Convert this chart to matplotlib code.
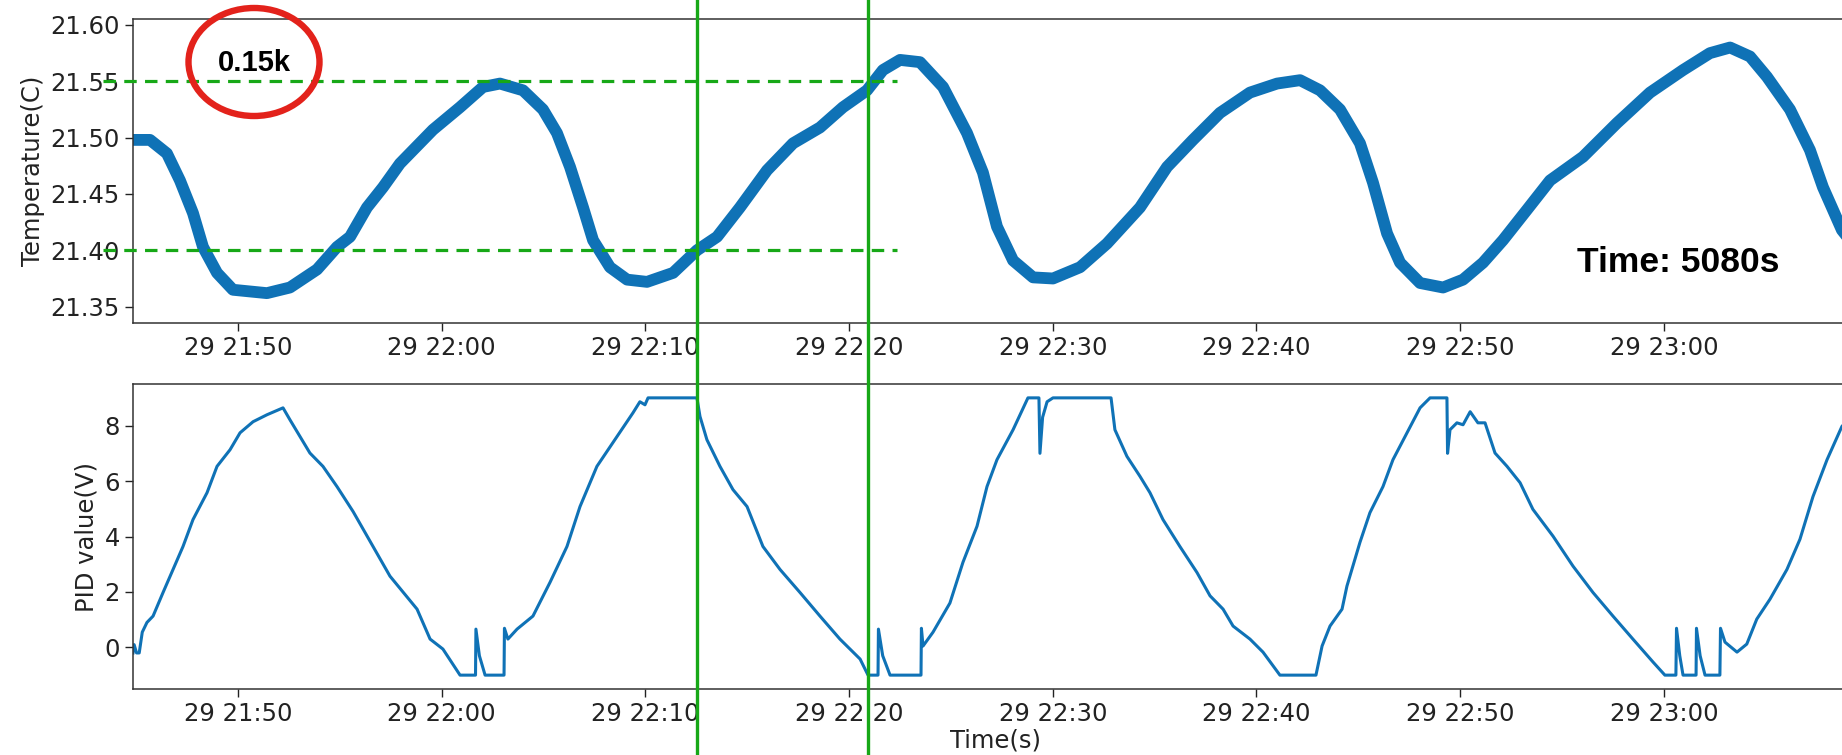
import matplotlib
matplotlib.use("Agg")
import matplotlib.pyplot as plt
import matplotlib.dates as mdates
from matplotlib.patches import Ellipse
from matplotlib.lines import Line2D
import pandas as pd

BASE = pd.Timestamp("2019-05-29 21:50:00")

# temperature (minutes after 21:50, value in C)
temp_minutes = [-5.155, -4.32, -3.49, -2.85, -2.21, -1.72, -1.03, -0.25, 1.42, 2.55,
                3.88, 4.86, 5.50, 6.33, 7.12, 7.95, 9.57, 10.90, 12.03, 12.86,
                13.99, 14.97, 15.66, 16.30, 16.94, 17.43, 18.26, 19.10, 20.08, 21.36,
                22.53, 23.52, 24.64, 25.97, 27.25, 28.57, 29.70, 30.88, 31.66, 32.50,
                33.48, 34.61, 35.79, 36.57, 37.26, 38.05, 39.03, 40.01, 41.34, 42.66,
                44.28, 45.61, 46.88, 48.21, 49.68, 51.01, 52.14, 53.12, 54.10, 55.08,
                55.72, 56.41, 57.05, 58.03, 59.16, 60.14, 61.12, 62.10, 63.28, 64.41,
                66.03, 67.70, 69.32, 70.94, 72.26, 73.25, 74.23, 75.06, 76.19, 77.17,
                77.81, 78.74, 79.53]
temp_values = [21.498, 21.498, 21.486, 21.462, 21.433, 21.403, 21.380, 21.365, 21.362, 21.367,
               21.383, 21.403, 21.412, 21.438, 21.456, 21.477, 21.507, 21.527, 21.545, 21.548,
               21.542, 21.525, 21.504, 21.474, 21.438, 21.409, 21.385, 21.374, 21.372, 21.380,
               21.400, 21.412, 21.438, 21.471, 21.495, 21.509, 21.527, 21.542, 21.560, 21.569,
               21.567, 21.545, 21.504, 21.469, 21.421, 21.391, 21.376, 21.375, 21.385, 21.406,
               21.438, 21.474, 21.498, 21.522, 21.540, 21.548, 21.551, 21.542, 21.525, 21.495,
               21.460, 21.415, 21.389, 21.371, 21.367, 21.374, 21.389, 21.409, 21.436, 21.462,
               21.483, 21.513, 21.540, 21.560, 21.575, 21.580, 21.572, 21.554, 21.525, 21.489,
               21.456, 21.418, 21.400]

# PID output (minutes after 21:50, value in V)
pid_minutes = [-5.155, -5.10, -4.98, -4.85, -4.70, -4.47, -4.17, -3.68, -3.19, -2.70,
               -2.21, -1.52, -1.03, -0.39, 0.10, 0.74, 1.42, 2.21, 2.55, 3.04,
               3.53, 4.17, 4.86, 5.65, 6.63, 7.46, 8.79, 9.43, 10.06, 10.90,
               11.66, 11.68, 11.85, 12.13, 13.06, 13.08, 13.25, 13.70, 14.48, 15.32,
               16.15, 16.79, 17.62, 18.61, 19.39, 19.73, 19.98, 20.13, 22.53, 22.68,
               23.02, 23.66, 24.30, 24.99, 25.77, 26.61, 27.59, 28.57, 29.55, 30.54,
               30.93, 31.42, 31.44, 31.65, 32.01, 33.53, 33.55, 33.63, 34.12, 34.95,
               35.59, 36.28, 36.77, 37.26, 38.05, 38.78, 39.32, 39.37, 39.50, 39.72,
               40.01, 42.86, 43.05, 43.64, 44.28, 44.77, 45.41, 46.24, 47.08, 47.72,
               48.36, 48.85, 49.68, 50.32, 51.15, 52.92, 53.22, 53.61, 54.20, 54.44,
               55.08, 55.57, 56.21, 56.70, 57.39, 58.03, 58.52, 59.35, 59.38, 59.50,
               59.84, 60.14, 60.49, 60.87, 61.22, 61.71, 62.30, 62.94, 63.57, 64.56,
               65.54, 66.52, 67.50, 68.48, 69.47, 70.05, 70.59, 70.62, 70.78, 70.94,
               71.58, 71.60, 71.78, 72.02, 72.75, 72.78, 73.00, 73.59, 74.07, 74.56,
               75.21, 76.04, 76.68, 77.32, 78.01, 78.74, 79.53]
pid_values = [-0.2, 0.1, -0.2, -0.2, 0.55, 0.9, 1.13, 1.98, 2.81, 3.64,
              4.61, 5.58, 6.53, 7.13, 7.74, 8.14, 8.39, 8.64, 8.21, 7.61,
              7.01, 6.53, 5.80, 4.90, 3.64, 2.57, 1.38, 0.30, -0.06, -1.0,
              -1.0, 0.66, -0.3, -1.0, -1.0, 0.69, 0.30, 0.66, 1.13, 2.35,
              3.64, 5.08, 6.53, 7.61, 8.46, 8.86, 8.75, 9.0, 9.0, 8.33,
              7.49, 6.53, 5.69, 5.08, 3.64, 2.81, 1.98, 1.13, 0.30, -0.42,
              -1.0, -1.0, 0.66, -0.3, -1.0, -1.0, 0.69, 0.05, 0.55, 1.6,
              3.07, 4.37, 5.80, 6.77, 7.85, 9.0, 9.0, 7.0, 8.3, 8.86,
              9.0, 9.0, 7.85, 6.89, 6.17, 5.58, 4.61, 3.64, 2.70, 1.86,
              1.38, 0.77, 0.30, -0.17, -1.0, -1.0, 0.05, 0.77, 1.38, 2.21,
              3.79, 4.86, 5.8, 6.77, 7.74, 8.64, 9.0, 9.0, 7.0, 7.85,
              8.1, 8.03, 8.5, 8.1, 8.1, 7.01, 6.53, 5.94, 4.98, 4.01,
              2.93, 1.98, 1.13, 0.30, -0.53, -1.0, -1.0, 0.69, -0.3, -1.0,
              -1.0, 0.69, -0.3, -1.0, -1.0, 0.69, 0.19, -0.17, 0.12, 1.02,
              1.74, 2.81, 3.9, 5.44, 6.77, 7.97, 8.6]

temp_ticks = [21.35, 21.40, 21.45, 21.50, 21.55, 21.60]
pid_ticks = [0, 2, 4, 6, 8]
band_levels = [21.55, 21.40]
band_span_minutes = [-6.63, 32.35]
marker_minutes = [22.53, 30.93]
range_label = "0.15k"
time_label = "Time: 5080s"

BLUE = "#0f72b6"
GREEN = "#17a817"
RED = "#e3221b"

plt.rcParams["font.family"] = ["DejaVu Sans"]
plt.rcParams["font.size"] = 17.5


def to_time(mins):
    return BASE + pd.to_timedelta(pd.Series(mins), unit="m")


fig = plt.figure(figsize=(18.42, 7.55), dpi=100)
W, H = 1842.0, 755.0
left = 133 / W
width = (1858 - 133) / W
ax1 = fig.add_axes([left, 1 - 323 / H, width, (323 - 19) / H])
ax2 = fig.add_axes([left, 1 - 689 / H, width, (689 - 384) / H])

t_temp = to_time(temp_minutes)
t_pid = to_time(pid_minutes)
ax1.plot(t_temp, temp_values, color=BLUE, lw=8.5, solid_joinstyle="round")
ax2.plot(t_pid, pid_values, color=BLUE, lw=2.2)

xlim = (BASE + pd.Timedelta(minutes=-5.155), BASE + pd.Timedelta(minutes=79.53))
for ax in (ax1, ax2):
    ax.set_xlim(xlim)
    ax.xaxis.set_major_locator(mdates.MinuteLocator(byminute=[0, 10, 20, 30, 40, 50]))
    ax.xaxis.set_major_formatter(mdates.DateFormatter("%d %H:%M"))
    ax.tick_params(labelsize=17.5, length=6, width=1.0, colors="#222222")
    for s in ax.spines.values():
        s.set_linewidth(1.1)
        s.set_color("#333333")

ax1.set_ylim(21.3355, 21.6053)
ax1.set_yticks(temp_ticks)
ax1.set_yticklabels([f"{v:.2f}" for v in temp_ticks])
ax1.set_ylabel("Temperature(C)", fontsize=17.5, color="#222222")

ax2.set_ylim(-1.5, 9.5)
ax2.set_yticks(pid_ticks)
ax2.set_ylabel("PID value(V)", fontsize=17.5, color="#222222")
ax2.set_xlabel("Time(s)", fontsize=17.5, color="#222222", labelpad=2)

# dashed threshold lines
ax1.hlines(band_levels, BASE + pd.Timedelta(minutes=band_span_minutes[0]),
           BASE + pd.Timedelta(minutes=band_span_minutes[1]),
           colors=GREEN, linestyles=(0, (3.9, 2.6)), lw=2.3, clip_on=False, zorder=5)

# vertical marker lines across the whole figure
fig.canvas.draw()
for m in marker_minutes:
    xd = mdates.date2num(BASE + pd.Timedelta(minutes=m))
    xp = ax1.transData.transform((xd, 21.4))[0]
    xf = xp / W
    fig.add_artist(Line2D([xf, xf], [0, 1], transform=fig.transFigure,
                          color=GREEN, lw=2.4, zorder=10))

# annotations
fig.add_artist(Ellipse((254 / W, 1 - 62 / H), 131 / W, 108 / H,
                       transform=fig.transFigure, fill=False, edgecolor=RED, lw=4.6, zorder=11))
fig.text(254 / W, 1 - 63 / H, range_label, ha="center", va="center",
         fontsize=21, fontweight="bold", family=["Liberation Sans", "DejaVu Sans"], zorder=12)
fig.text(1678 / W, 1 - 263 / H, time_label, ha="center", va="center",
         fontsize=25.5, fontweight="bold", family=["Liberation Sans", "DejaVu Sans"], zorder=12)

fig.savefig("out.png", dpi=100)
